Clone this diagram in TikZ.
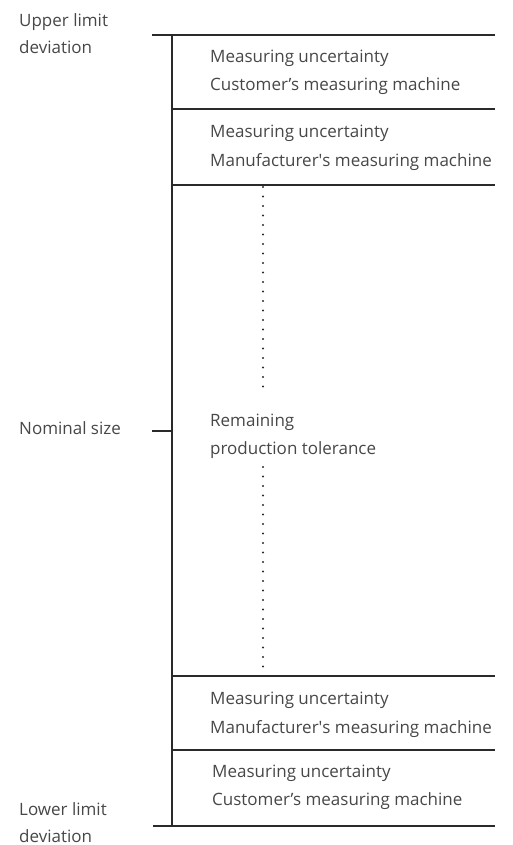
\documentclass[tikz,border=0pt]{standalone}
\usepackage{fontspec}
\setmainfont{Open Sans}
\definecolor{txt}{HTML}{474747}
\definecolor{ln}{HTML}{2A2A2A}

\begin{document}
\begin{tikzpicture}[x=1pt,y=-1pt,font=\fontsize{17}{20}\selectfont]
\useasboundingbox (0,0) rectangle (513,845);

\begin{scope}[every node/.style={anchor=base west,inner sep=0pt,txt}]
% Left labels:
\node (upper_a) at (19, 27) {Upper limit};
\node (upper_b) at (19, 54) {deviation};
\node (nominal) at (19, 434) {Nominal size};
\node (lower_a) at (19, 815) {Lower limit};
\node (lower_b) at (19, 842) {deviation};

% Band labels:
\node (cust_a) at (210, 63) {Measuring uncertainty};
\node (cust_b) at (210, 91) {Customer’s measuring machine};
\node (manu_a) at (210, 138) {Measuring uncertainty};
\node (manu_b) at (210, 167) {Manufacturer\textquotesingle s measuring machine};
\node (rest_a) at (210, 426) {Remaining};
\node (rest_b) at (210, 454) {production tolerance};
\node (manu_c) at (210, 704) {Measuring uncertainty};
\node (manu_d) at (210, 733) {Manufacturer\textquotesingle s measuring machine};
\node (cust_c) at (212, 777) {Measuring uncertainty};
\node (cust_d) at (212, 805) {Customer’s measuring machine};
\end{scope}

% Ends of the lines:
\coordinate (axis_top) at (172, 35);
\coordinate (axis_bot) at (172, 826);
\coordinate (tick_top) at (152, 35);
\coordinate (tick_bot) at (153, 826);
\coordinate (tick_nom) at (152, 431);
\coordinate (axis_nom) at (172, 431);
\coordinate (dot_top) at (263, 187);
\coordinate (dot_mid_a) at (263, 395);
\coordinate (dot_mid_b) at (263, 467);
\coordinate (dot_bot) at (263, 674);

\begin{scope}[ln,line width=1.5pt]
% Axis and limits:
\draw (axis_top) -- (axis_bot);
\draw (tick_top) -- (495, 35);
\draw (tick_bot) -- (495, 826);
\draw (tick_nom) -- (axis_nom);

% Band borders:
\foreach \y in {109, 185, 676, 750}{%
    \draw (172, \y) -- (495, \y);
}
\end{scope}

% Dots through the remaining tolerance:
\begin{scope}[ln,line width=2.2pt,line cap=round,dash pattern=on 0pt off 9.5pt]
\draw (dot_top) -- (dot_mid_a);
\draw (dot_mid_b) -- (dot_bot);
\end{scope}
\end{tikzpicture}
\end{document}
